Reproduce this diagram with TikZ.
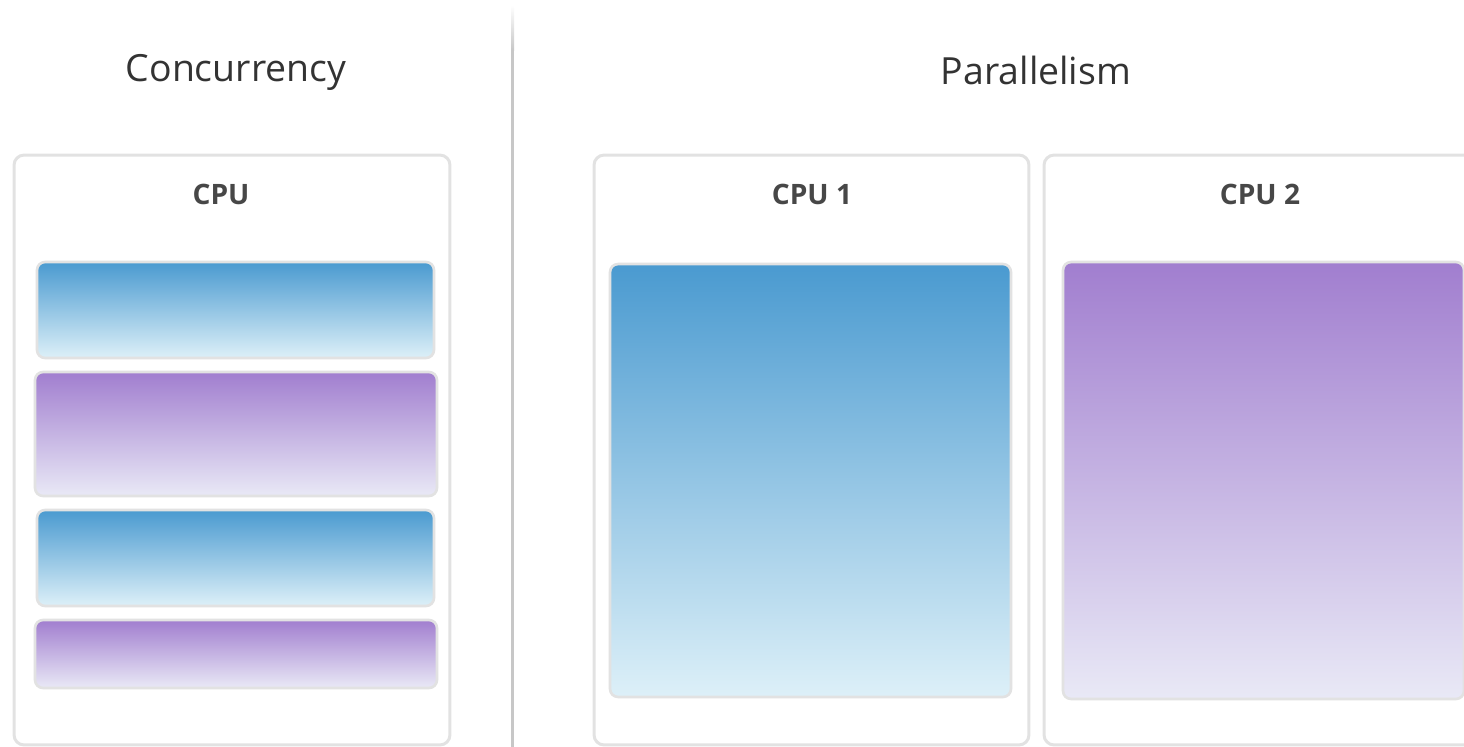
\documentclass[tikz,border=0pt]{standalone}
\usepackage{fontspec}
\setmainfont{Open Sans}
\definecolor{blueTop}{HTML}{4A9AD0}
\definecolor{blueBot}{HTML}{DDF0F8}
\definecolor{purpleTop}{HTML}{A17ECF}
\definecolor{purpleBot}{HTML}{E9E9F6}
\definecolor{frameGray}{HTML}{E2E2E2}
\definecolor{textGray}{HTML}{333333}

\begin{document}
\begin{tikzpicture}[x=0.02cm, y=-0.02cm]
                    \tikzset{cpubox/.style={draw=frameGray, line width=1.7pt, rounded corners=0.2cm, fill=white, minimum width=8.7cm, minimum height=11.8cm},
                             title/.style={text=textGray, font=\fontsize{21.3}{25}\selectfont},
                             cpulabel/.style={text=textGray!90, font=\bfseries\fontsize{16}{19}\selectfont},
                             task/.style={draw=frameGray, line width=1.5pt, rounded corners=0.16cm, shading angle=0},
                             bluetask/.style={task, top color=blueTop, bottom color=blueBot},
                             purpletask/.style={task, top color=purpleTop, bottom color=purpleBot}}
                    \useasboundingbox (0, 0) rectangle (1464, 747);
                    \clip (0, 0) rectangle (1464, 747);

                    % divider
                    \shade[top color=white, bottom color=black!22] (511, 5) rectangle (514, 50);
                    \fill[black!22] (511, 50) rectangle (514, 747);

                    \node[title] (conc) at (236, 72) {Concurrency};
                    \node[title] (para) at (1036, 70) {Parallelism};

                    % concurrency: one cpu
                    \node[cpubox, minimum width=8.72cm] (cpu) at (232, 450) {};
                    \node[cpulabel] (cpuL) at (221, 194) {CPU};
                    \node[bluetask, minimum width=7.94cm, minimum height=1.92cm] (t1) at (235.5, 310) {};
                    \node[purpletask, minimum width=8.04cm, minimum height=2.48cm] (t2) at (236, 434) {};
                    \node[bluetask, minimum width=7.94cm, minimum height=1.92cm] (t3) at (235.5, 558) {};
                    \node[purpletask, minimum width=8.04cm, minimum height=1.36cm] (t4) at (236, 654) {};

                    % parallelism: two cpus
                    \node[cpubox] (cpu1) at (811.5, 450) {};
                    \node[cpulabel] (cpu1L) at (812, 194) {CPU 1};
                    \node[bluetask, minimum width=8.02cm, minimum height=8.66cm] (p1) at (810.5, 480.5) {};

                    \node[cpubox] (cpu2) at (1261.5, 450) {};
                    \node[cpulabel] (cpu2L) at (1260, 194) {CPU 2};
                    \node[purpletask, minimum width=8.02cm, minimum height=8.74cm] (p2) at (1263.5, 480.5) {};
                \end{tikzpicture}
\end{document}
